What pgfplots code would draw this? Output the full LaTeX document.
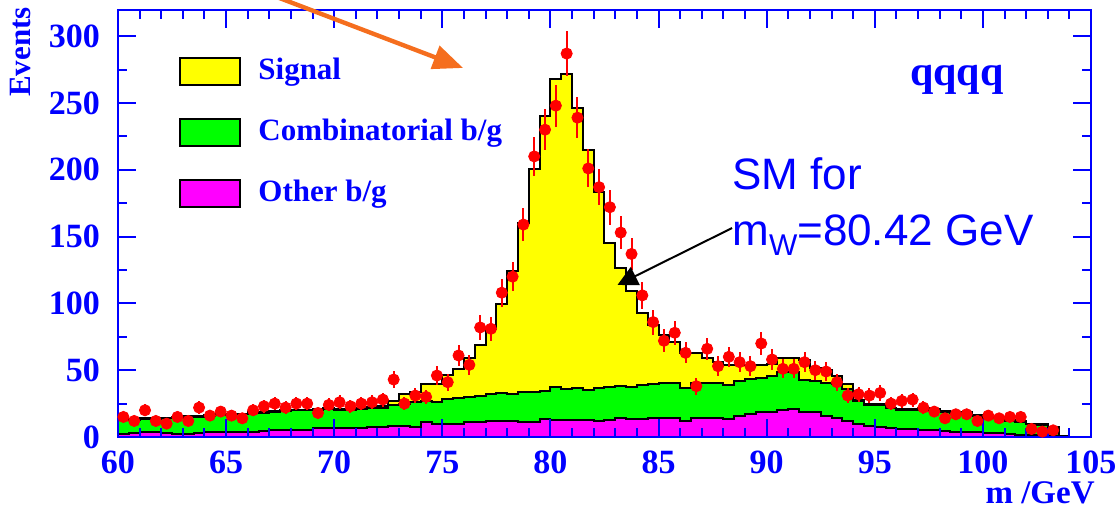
\documentclass[border=0pt]{standalone}
\usepackage{pgfplots}
\pgfplotsset{compat=1.18}
\usepackage{pgfplotstable}
\usepackage{fontspec}
\setmainfont{Liberation Serif}
\newfontfamily\sansfont{Liberation Sans}
\usetikzlibrary{arrows.meta}

\definecolor{rootblue}{rgb}{0,0,1}
\definecolor{rootgreen}{rgb}{0,1,0}
\definecolor{rootyellow}{rgb}{1,1,0}
\definecolor{rootmagenta}{rgb}{1,0,1}
\definecolor{rootred}{rgb}{1,0,0}
\definecolor{arroworange}{RGB}{245,110,30}

% Stacked histogram (0.5 GeV bins, lower bin edges): cumulative tops
% other = other b/g, comb = other + combinatorial, tot = all (incl. signal)
\pgfplotstableread{
e      other  comb   tot
60.0   2.5    13     13.5
60.5   3      13     13.5
61.0   3.5    13.5   14
61.5   3.5    13.5   14
62.0   3      14     14.5
62.5   2.5    14.5   15
63.0   2.5    15     15.5
63.5   3      15     15.5
64.0   4      16     16.5
64.5   4      16.5   17
65.0   3.5    17     17.5
65.5   3.5    17     17.5
66.0   4      18     18.5
66.5   4.5    18     18.5
67.0   5      19     19.5
67.5   5      19.5   20
68.0   5.5    20     20.5
68.5   5.5    20     20.5
69.0   7      20.5   21
69.5   7      21     22
70.0   6.5    20.5   21
70.5   7      20.5   21
71.0   7      21     22
71.5   7.5    21.5   22.5
72.0   7.5    22     23.5
72.5   8      24     27
73.0   8      25     32.5
73.5   7.5    26     33.5
74.0   11     27     40
74.5   10     26.5   40
75.0   10     28.5   46.5
75.5   10     29     51
76.0   11     30     59
76.5   11.5   31     69
77.0   12     32     80.5
77.5   12     33     99.5
78.0   12     32.5   124.5
78.5   11.5   33.5   160
79.0   11     34     200.5
79.5   13.5   34.5   240
80.0   13     37.5   268
80.5   12.5   36     271.5
81.0   12.5   36.5   246
81.5   12.5   35.5   215
82.0   12     37     183
82.5   13     37.5   145
83.0   14     38.5   126.5
83.5   13.5   37.5   109
84.0   13.5   39     93
84.5   14     40     83.5
85.0   14     40.5   76
85.5   14     40.5   71
86.0   12     36.5   63
86.5   14.5   40.5   63
87.0   14.5   40.5   59
87.5   14     40.5   56.5
88.0   13.5   39     54
88.5   16     42     54
89.0   17     43.5   54
89.5   18.5   44.5   54
90.0   19     46     55
90.5   20     48.5   59
91.0   21     48.5   59
91.5   18.5   42.5   57.5
92.0   19     42     52
92.5   16     40.5   50
93.0   14.5   40     46
93.5   12     36     40
94.0   10     27     28
94.5   8.5    24     25
95.0   7.5    24     25
95.5   6.5    21.5   22
96.0   6      20.5   21
96.5   6      20.5   21
97.0   5.5    21.5   22
97.5   5      20.5   21
98.0   4.5    19     19.5
98.5   4      18     19
99.0   4      18     19
99.5   3.5    16     16.5
100.0  3      14.5   15
100.5  3      14     14.5
101.0  2.5    12     12.5
101.5  1.5    11.5   12
102.0  1.5    9.5    10
102.5  1.5    9      9.5
103.0  1      7      7.5
103.5  0.5    0.5    1
104.0  0      0      0
104.5  0      0      0
105.0  0      0      0
}\hist

% Data: bin centre, events, statistical error
\pgfplotstableread{
x      y     err
60.25  15    3.9
60.75  12    3.5
61.25  20    4.5
61.75  12    3.5
62.25  10    3.2
62.75  15    3.9
63.25  12    3.5
63.75  22    4.7
64.25  16    4.0
64.75  19    4.4
65.25  16    4.0
65.75  14    3.7
66.25  20    4.5
66.75  23    4.8
67.25  25    5.0
67.75  22    4.7
68.25  25    5.0
68.75  25    5.0
69.25  18    4.2
69.75  24    4.9
70.25  26    5.1
70.75  23    4.8
71.25  25    5.0
71.75  26    5.1
72.25  28    5.3
72.75  43    6.6
73.25  25    5.0
73.75  31    5.6
74.25  30    5.5
74.75  46    6.8
75.25  41    6.4
75.75  61    7.8
76.25  54    7.3
76.75  82    9.1
77.25  81    9.0
77.75  108   10.4
78.25  120   11.0
78.75  159   12.6
79.25  210   14.5
79.75  230   15.2
80.25  248   15.7
80.75  287   16.9
81.25  239   15.5
81.75  201   14.2
82.25  187   13.7
82.75  172   13.1
83.25  153   12.4
83.75  137   11.7
84.25  106   10.3
84.75  86    9.3
85.25  72    8.5
85.75  78    8.8
86.25  63    7.9
86.75  38    6.2
87.25  66    8.1
87.75  53    7.3
88.25  60    7.7
88.75  56    7.5
89.25  53    7.3
89.75  70    8.4
90.25  58    7.6
90.75  51    7.1
91.25  51    7.1
91.75  56    7.5
92.25  50    7.1
92.75  49    7.0
93.25  41    6.4
93.75  31    5.6
94.25  32    5.7
94.75  31    5.6
95.25  33    5.7
95.75  25    5.0
96.25  27    5.2
96.75  28    5.3
97.25  22    4.7
97.75  19    4.4
98.25  14    3.7
98.75  17    4.1
99.25  17    4.1
99.75  12    3.5
100.25 16    4.0
100.75 14    3.7
101.25 15    3.9
101.75 15    3.9
102.25 6     2.4
102.75 4     2.0
103.25 5     2.2
}\data

\begin{document}
\begin{tikzpicture}
\begin{axis}[
  scale only axis, width=486.5pt, height=213.5pt,
  xmin=60, xmax=105, ymin=0, ymax=319.6,
  axis on top,
  axis line style={rootblue, line width=1pt},
  every tick/.style={rootblue, line width=1pt},
  tick align=inside, tick pos=both,
  major tick length=9pt, minor tick length=4.5pt,
  xtick={60,65,...,105}, minor x tick num=4,
  ytick={0,50,...,300}, minor y tick num=1,
  ticklabel style={text=rootblue, font=\fontsize{17}{17}\selectfont\bfseries},
  /pgf/number format/assume math mode=true,
  xticklabel style={yshift=-3.5pt},
  yticklabel style={xshift=-5.5pt},
]
\addplot[const plot mark left, fill=rootyellow, draw=black, line width=1pt]
  table[x=e, y=tot] {\hist} \closedcycle;
\addplot[const plot mark left, fill=rootgreen, draw=black, line width=1pt]
  table[x=e, y=comb] {\hist} \closedcycle;
\addplot[const plot mark left, fill=rootmagenta, draw=black, line width=1pt]
  table[x=e, y=other] {\hist} \closedcycle;
% empty bins beyond the last entry
\addplot[rootred, line width=1pt] coordinates {(103.5,0) (105,0)};
\addplot[only marks, mark=*, mark size=2.8pt, rootred,
  error bars/.cd, y dir=both, y explicit,
  error bar style={rootred, line width=1pt}, error mark=none]
  table[x=x, y=y, y error=err] {\data};

\coordinate (O) at (rel axis cs:0,0);
\coordinate (orA) at (axis cs:66.1,337);
\coordinate (orB) at (axis cs:75.96,276.2);
\coordinate (bkA) at (axis cs:88.4,156.4);
\coordinate (bkB) at (axis cs:83.1,113.8);
\end{axis}

% annotations, in a frame of 0.5pt units with the origin at the top left corner
\begin{scope}[shift={(O)}, x=0.5pt, y=-0.5pt, shift={(-118,-437)}]
  \pgfresetboundingbox
  \path[use as bounding box] (0,0) rectangle (1115,513);

  % legend
  \draw[fill=rootyellow, line width=1pt] (180,58) rectangle (240,85);
  \draw[fill=rootgreen, line width=1pt] (180,119) rectangle (240,146);
  \draw[fill=rootmagenta, line width=1pt] (180,180) rectangle (240,207);
  \begin{scope}[every node/.style={text=rootblue, font=\fontsize{15.5}{16}\selectfont\bfseries, anchor=base west, inner sep=0pt}]
    \node at (258,80) {Signal};
    \node at (258,141) {Combinatorial b/g};
    \node at (258,202) {Other b/g};
  \end{scope}

  \node[text=rootblue, font=\fontsize{21}{22}\selectfont\bfseries, anchor=base, inner sep=0pt] at (957,86) {qqqq};

  \node[text=rootblue, font=\fontsize{22}{24}\selectfont\sansfont, anchor=base west, inner sep=0pt] at (732,190) {SM for};
  \node[text=rootblue, font=\fontsize{22}{24}\selectfont\sansfont, anchor=base west, inner sep=0pt] at (732,246) {m\raisebox{-0.22em}{\fontsize{15}{16}\selectfont W}=80.42 GeV};

  \node[text=rootblue, font=\fontsize{15.5}{16}\selectfont\bfseries, rotate=90, inner sep=0pt] at (21,52) {Events};
  \node[text=rootblue, font=\fontsize{16.5}{17}\selectfont\bfseries, anchor=base east, inner sep=0pt] at (1095,504) {m /GeV};

  \draw[black, line width=1pt, -{Triangle[length=10pt, width=10pt]}] (bkA) -- (bkB);
  \draw[arroworange, line width=2.2pt, -{Triangle[length=15pt, width=12pt]}] (orA) -- (orB);
\end{scope}
\end{tikzpicture}
\end{document}
